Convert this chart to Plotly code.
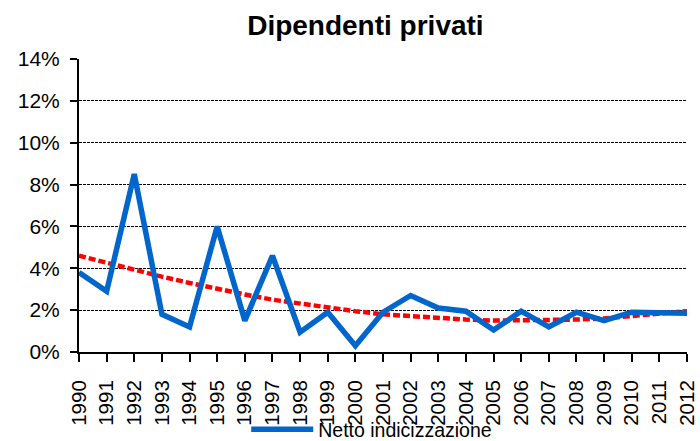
import plotly.graph_objects as go

years = list(range(1990, 2013))
netto = [3.8, 2.9, 8.5, 1.8, 1.2, 6.0, 1.5, 4.6, 0.95, 1.9, 0.3, 1.9, 2.7, 2.1, 1.95,
         1.05, 1.95, 1.2, 1.9, 1.5, 1.9, 1.9, 1.85]
trend = [4.6, 4.25, 3.9, 3.6, 3.3, 3.0, 2.75, 2.5, 2.3, 2.1, 1.95, 1.8, 1.7, 1.62, 1.55,
         1.5, 1.5, 1.5, 1.55, 1.6, 1.7, 1.8, 1.95]
y_ticks = [0, 2, 4, 6, 8, 10, 12, 14]
y_labels = [f"{v}%" for v in y_ticks]

fig = go.Figure()
fig.add_trace(go.Scatter(x=years, y=trend, mode="lines", showlegend=False,
                         line=dict(color="#FF0000", width=4.5, dash="7px,3px")))
fig.add_trace(go.Scatter(x=years, y=netto, mode="lines", name="Netto indicizzazione",
                         line=dict(color="#0066CC", width=5.5)))

fig.update_layout(
    width=700, height=441,
    margin=dict(l=79, r=13, t=59, b=89, autoexpand=False),
    paper_bgcolor="white", plot_bgcolor="white",
    font=dict(family="Liberation Sans, Arial, sans-serif", color="black"),
    title=dict(text="<b>Dipendenti privati</b>", x=0.522, xanchor="center",
               y=0.943, yanchor="middle", font=dict(size=28)),
    legend=dict(orientation="h", x=0.275, xanchor="left", y=-0.265, yanchor="middle",
                font=dict(size=19.5), itemwidth=62, bgcolor="rgba(0,0,0,0)"),
)
fig.update_xaxes(range=[1990, 2012], tickmode="array", tickvals=years,
                 ticktext=[str(y) for y in years], tickangle=-90,
                 tickfont=dict(size=20.5), ticks="outside", ticklen=8, tickwidth=2,
                 tickcolor="black", showline=True, linecolor="black", linewidth=2,
                 showgrid=False, zeroline=False, automargin=False, ticklabelstandoff=10)
fig.update_yaxes(range=[0, 14], tickmode="array", tickvals=y_ticks, ticktext=y_labels,
                 tickfont=dict(size=21), ticks="outside", ticklen=7, tickwidth=2,
                 tickcolor="black", showline=True, linecolor="black", linewidth=2,
                 showgrid=True, gridcolor="black", gridwidth=1, griddash="3px,1px",
                 zeroline=False, automargin=False, ticklabelstandoff=6)

fig.write_html("out.html", config={"displayModeBar": False},
               post_script="document.body.style.margin='0';")
